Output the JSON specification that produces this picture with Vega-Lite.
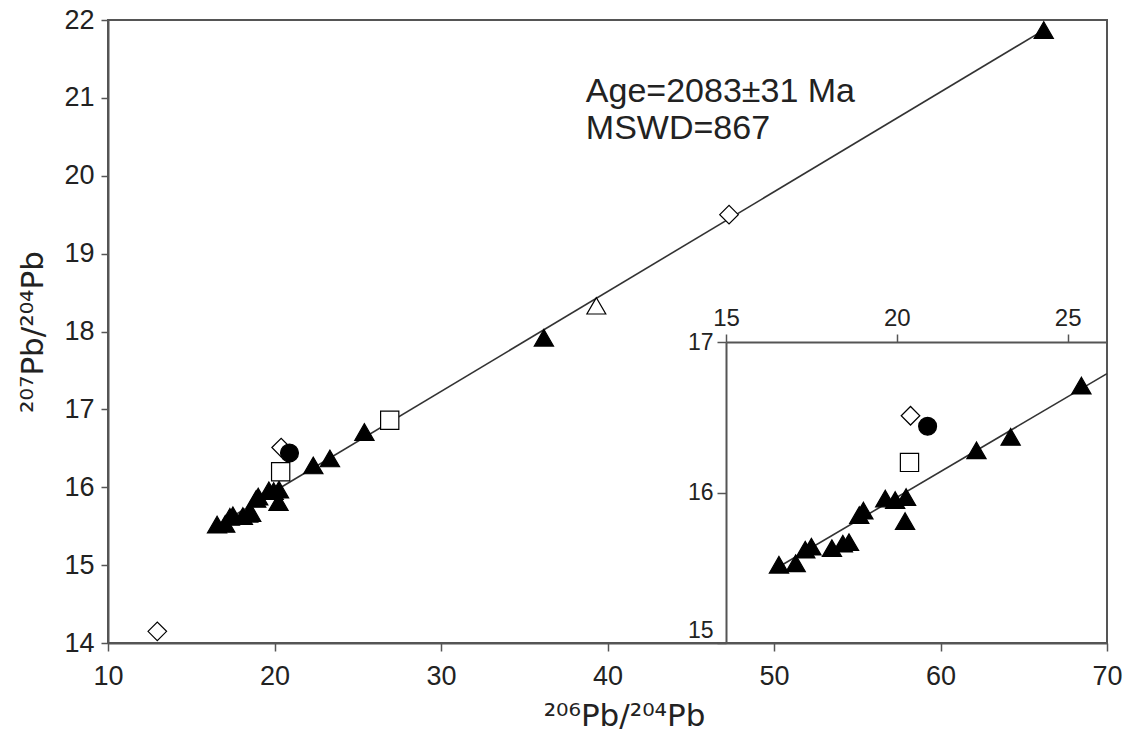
{
  "$schema": "https://vega.github.io/schema/vega-lite/v6.json",
  "autosize": {"type": "none"},
  "padding": {"left": 108, "top": 20, "right": 26, "bottom": 97},
  "width": 999,
  "height": 623,
  "background": "white",
  "config": {
    "font": "Liberation Sans",
    "view": {"stroke": "#555", "strokeWidth": 2},
    "axis": {
      "grid": false,
      "domainColor": "#555",
      "domainWidth": 2,
      "tickColor": "#555",
      "tickWidth": 1.5,
      "labelColor": "#222",
      "labelFont": "Liberation Sans",
      "titleFont": "DejaVu Sans",
      "titleColor": "#222",
      "titleFontWeight": "normal"
    }
  },
  "datasets": {
    "pts": [
      {"r206": 16.55, "r207": 15.52, "type": "A"},
      {"r206": 17.04, "r207": 15.53, "type": "A"},
      {"r206": 17.32, "r207": 15.62, "type": "A"},
      {"r206": 17.5, "r207": 15.64, "type": "A"},
      {"r206": 18.1, "r207": 15.63, "type": "A"},
      {"r206": 18.42, "r207": 15.66, "type": "A"},
      {"r206": 18.6, "r207": 15.67, "type": "A"},
      {"r206": 18.9, "r207": 15.85, "type": "A"},
      {"r206": 19.02, "r207": 15.88, "type": "A"},
      {"r206": 19.66, "r207": 15.96, "type": "A"},
      {"r206": 19.95, "r207": 15.95, "type": "A"},
      {"r206": 20.27, "r207": 15.97, "type": "A"},
      {"r206": 20.24, "r207": 15.81, "type": "A"},
      {"r206": 22.33, "r207": 16.28, "type": "A"},
      {"r206": 23.33, "r207": 16.37, "type": "A"},
      {"r206": 25.4, "r207": 16.71, "type": "A"},
      {"r206": 36.18, "r207": 17.92, "type": "A"},
      {"r206": 66.2, "r207": 21.87, "type": "A"},
      {"r206": 39.33, "r207": 18.33, "type": "B"},
      {"r206": 12.96, "r207": 14.15, "type": "C"},
      {"r206": 20.4, "r207": 16.51, "type": "C"},
      {"r206": 47.3, "r207": 19.5, "type": "C"},
      {"r206": 20.37, "r207": 16.2, "type": "D"},
      {"r206": 26.92, "r207": 16.86, "type": "D"},
      {"r206": 20.9, "r207": 16.44, "type": "E"}
    ],
    "fit": [
      {"r206": 16.5, "r207": 15.5},
      {"r206": 66.2, "r207": 21.87}
    ],
    "fitInset": [
      {"r206": 16.5, "r207": 15.5},
      {"r206": 26.15, "r207": 16.79}
    ],
    "note": [
      {"r206": 38.7, "r207": 20.95, "label": "Age=2083±31 Ma\nMSWD=867"}
    ]
  },
  "layer": [
    {
      "encoding": {
        "x": {
          "field": "r206", "type": "quantitative",
          "scale": {"domain": [10, 70], "nice": false, "zero": false},
          "axis": {
            "orient": "bottom",
            "values": [10, 20, 30, 40, 50, 60, 70],
            "labelFlush": false,
            "labelOverlap": false,
            "tickSize": 8,
            "labelPadding": 12,
            "labelFontSize": 27,
            "title": "²⁰⁶Pb/²⁰⁴Pb",
            "titleFontSize": 31,
            "titlePadding": 12,
            "titleX": 516
          }
        },
        "y": {
          "field": "r207", "type": "quantitative",
          "scale": {"domain": [14, 22], "nice": false, "zero": false},
          "axis": {
            "orient": "left",
            "values": [14, 15, 16, 17, 18, 19, 20, 21, 22],
            "labelOverlap": false,
            "tickSize": 7,
            "labelPadding": 7,
            "labelFontSize": 27,
            "title": "²⁰⁷Pb/²⁰⁴Pb",
            "titleFontSize": 31,
            "titlePadding": 14
          }
        }
      },
      "layer": [
        {
          "data": {"name": "fit"},
          "mark": {"type": "line", "color": "#333", "strokeWidth": 1.6},
          "encoding": {}
        },
        {
          "data": {"name": "pts"},
          "mark": {"type": "point", "filled": true, "stroke": "#000", "strokeWidth": 1.2, "opacity": 1},
          "encoding": {
            "shape": {"field": "type", "type": "nominal", "legend": null,
              "scale": {"domain": ["A", "B", "C", "D", "E"], "range": ["triangle-up", "triangle-up", "diamond", "square", "circle"]}},
            "fill": {"field": "type", "type": "nominal", "legend": null,
              "scale": {"domain": ["A", "B", "C", "D", "E"], "range": ["#000", "#fff", "#fff", "#fff", "#000"]}},
            "size": {"field": "type", "type": "nominal", "legend": null,
              "scale": {"domain": ["A", "B", "C", "D", "E"], "range": [370, 320, 290, 270, 210]}}
          }
        },
        {
          "data": {"name": "note"},
          "mark": {"type": "text", "align": "left", "baseline": "alphabetic", "fontSize": 34, "lineBreak": "\n", "lineHeight": 37, "color": "#222", "font": "Liberation Sans"},
          "encoding": {"text": {"field": "label"}}
        }
      ]
    },
    {
      "encoding": {
        "x": {
          "field": "r206", "type": "quantitative",
          "scale": {"domain": [15, 26.15], "range": [618, 999], "nice": false, "zero": false},
          "axis": {
            "orient": "top",
            "offset": -322,
            "values": [15, 20, 25],
            "format": ".0f",
            "labelFlush": false,
            "labelOverlap": false,
            "tickSize": 8,
            "labelPadding": 4,
            "labelFontSize": 24,
            "title": null
          }
        },
        "y": {
          "field": "r207", "type": "quantitative",
          "scale": {"domain": [15, 17], "range": [623, 322], "nice": false, "zero": false},
          "axis": {
            "orient": "left",
            "offset": -618,
            "values": [15, 16, 17],
            "format": ".0f",
            "labelOverlap": false,
            "tickSize": 9,
            "labelPadding": 4,
            "labelFontSize": 23,
            "labelOffset": {"condition": {"test": "datum.value == 15", "value": -13}, "value": 0},
            "title": null
          }
        }
      },
      "layer": [
        {
          "data": {"name": "fitInset"},
          "mark": {"type": "line", "color": "#333", "strokeWidth": 1.6},
          "encoding": {}
        },
        {
          "data": {"name": "pts"},
          "transform": [{"filter": "datum.r206 <= 26.15 && datum.r207 >= 15"}],
          "mark": {"type": "point", "filled": true, "stroke": "#000", "strokeWidth": 1.2, "opacity": 1},
          "encoding": {
            "shape": {"field": "type", "type": "nominal", "legend": null,
              "scale": {"domain": ["A", "B", "C", "D", "E"], "range": ["triangle-up", "triangle-up", "diamond", "square", "circle"]}},
            "fill": {"field": "type", "type": "nominal", "legend": null,
              "scale": {"domain": ["A", "B", "C", "D", "E"], "range": ["#000", "#fff", "#fff", "#fff", "#000"]}},
            "size": {"field": "type", "type": "nominal", "legend": null,
              "scale": {"domain": ["A", "B", "C", "D", "E"], "range": [370, 320, 290, 270, 210]}}
          }
        }
      ]
    }
  ],
  "resolve": {"scale": {"x": "independent", "y": "independent"}, "axis": {"x": "independent", "y": "independent"}}
}
